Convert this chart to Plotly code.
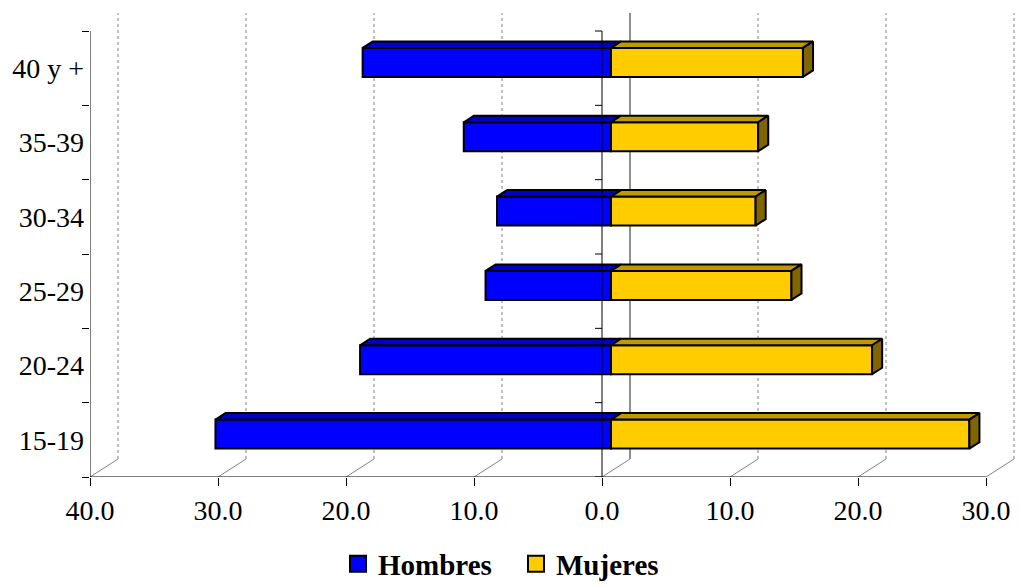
import plotly.graph_objects as go

# Age groups (bottom to top) and percentages by sex
grupos = ["15-19", "20-24", "25-29", "30-34", "35-39", "40 y +"]
hombres = [30.9, 19.6, 9.8, 8.9, 11.5, 19.4]
mujeres = [28.0, 20.4, 14.1, 11.3, 11.5, 15.0]

# Value axis ticks (men drawn to the left as negative values)
xticks = [-40, -30, -20, -10, 0, 10, 20, 30]
xticklabels = ["40.0", "30.0", "20.0", "10.0", "0.0", "10.0", "20.0", "30.0"]

# ---- page / plot geometry ----
W, H = 1019, 586
ML, MR, MT, MB = 90, 2, 10, 109
PW, PH = W - ML - MR, H - MT - MB
PX_PER_X = 12.8            # pixels per percentage point on the front plane
PX_PER_Y = 446 / 6         # pixels per category band on the front plane
XMIN = xticks[0]
XMAX = XMIN + PW / PX_PER_X
YMAX = PH / PX_PER_Y
NCAT = len(grupos)

# depth (pseudo 3-D) vector from the front plane to the back wall, in data units
DX = 28 / PX_PER_X
DY = 18 / PX_PER_Y
F0, F1 = 0.32, 0.68        # bar front / back depth fractions
BAR_W = 29 / PX_PER_Y      # bar thickness in category units

BLUE, BLUE_TOP = "#0000FF", "#0000C8"
GOLD, GOLD_TOP, GOLD_SIDE = "#FFCC00", "#C09900", "#806600"
FONT = "Liberation Serif, Times New Roman, serif"
EDGE = dict(color="black", width=2)

fig = go.Figure()

base0 = F0 * DX
centers = [i + 0.5 + F0 * DY for i in range(NCAT)]
ddx, ddy = (F1 - F0) * DX, (F1 - F0) * DY

# front faces of the bars
fig.add_trace(go.Bar(
    y=centers, x=[-v for v in hombres], base=base0, orientation="h",
    width=BAR_W, marker=dict(color=BLUE, line=EDGE), showlegend=False,
    hoverinfo="skip"))
fig.add_trace(go.Bar(
    y=centers, x=mujeres, base=base0, orientation="h",
    width=BAR_W, marker=dict(color=GOLD, line=EDGE), showlegend=False,
    hoverinfo="skip"))

# top and side faces of each bar
for yc, h, m in zip(centers, hombres, mujeres):
    yt, yb = yc + BAR_W / 2, yc - BAR_W / 2
    # men, top face
    fig.add_trace(go.Scatter(
        x=[base0 - h, base0 - h + ddx, base0 + ddx, base0, base0 - h],
        y=[yt, yt + ddy, yt + ddy, yt, yt],
        mode="lines", fill="toself", fillcolor=BLUE_TOP,
        line=dict(color="black", width=2), showlegend=False, hoverinfo="skip"))
    # women, top face
    fig.add_trace(go.Scatter(
        x=[base0, base0 + ddx, base0 + m + ddx, base0 + m, base0],
        y=[yt, yt + ddy, yt + ddy, yt, yt],
        mode="lines", fill="toself", fillcolor=GOLD_TOP,
        line=dict(color="black", width=2), showlegend=False, hoverinfo="skip"))
    # women, right end face
    fig.add_trace(go.Scatter(
        x=[base0 + m, base0 + m + ddx, base0 + m + ddx, base0 + m, base0 + m],
        y=[yt, yt + ddy, yb + ddy, yb, yt],
        mode="lines", fill="toself", fillcolor=GOLD_SIDE,
        line=dict(color="black", width=2), showlegend=False, hoverinfo="skip"))

# legend entries
for name, col in [("Hombres", BLUE), ("Mujeres", GOLD)]:
    fig.add_trace(go.Scatter(
        x=[None], y=[None], mode="markers", name=name,
        marker=dict(symbol="square", size=16, color=col,
                    line=dict(color="black", width=2))))

shapes = []
# back wall gridlines and floor diagonals
for v in xticks:
    shapes.append(dict(
        type="line", layer="below", x0=v + DX, x1=v + DX, y0=DY, y1=NCAT + DY,
        line=dict(color="#202020" if v == 0 else "#808080", width=1,
                  dash="solid" if v == 0 else "dot")))
    shapes.append(dict(
        type="line", layer="below", x0=v, x1=v + DX, y0=0, y1=DY,
        line=dict(color="#808080", width=1)))

# front axis lines
shapes.append(dict(type="line", layer="above", x0=xticks[0], x1=xticks[-1],
                   y0=0, y1=0, line=dict(color="black", width=1)))
shapes.append(dict(type="line", layer="above", x0=xticks[0], x1=xticks[0],
                   y0=0, y1=NCAT, line=dict(color="black", width=1)))
shapes.append(dict(type="line", layer="above", x0=0, x1=0,
                   y0=0, y1=NCAT, line=dict(color="black", width=1)))
tick_len = 7 / PX_PER_X
for b in range(NCAT + 1):
    shapes.append(dict(type="line", layer="above", x0=-tick_len, x1=0,
                       y0=b, y1=b, line=dict(color="black", width=1)))

fig.update_layout(
    width=W, height=H,
    margin=dict(l=ML, r=MR, t=MT, b=MB, pad=0, autoexpand=False),
    paper_bgcolor="white", plot_bgcolor="white",
    font=dict(family=FONT, size=28, color="black"),
    barmode="overlay",
    shapes=shapes,
    showlegend=True,
    legend=dict(
        orientation="h", xref="container", yref="container",
        x=338 / W, xanchor="left",
        y=1 - 564 / H, yanchor="middle",
        entrywidth=133, entrywidthmode="pixels",
        font=dict(family=FONT, size=29, color="black", weight="bold"),
        itemsizing="trace", bgcolor="rgba(0,0,0,0)"),
    xaxis=dict(
        range=[XMIN, XMAX], showgrid=False, zeroline=False, showline=False,
        tickmode="array", tickvals=xticks, ticktext=xticklabels,
        ticks="outside", ticklen=8, tickwidth=1, tickcolor="black",
        tickfont=dict(family=FONT, size=28, color="black")),
    yaxis=dict(
        range=[0, YMAX], showgrid=False, zeroline=False, showline=False,
        tickmode="array", tickvals=[i + 0.5 for i in range(NCAT)],
        ticktext=grupos, ticks="", ticklabelstandoff=5,
        tickfont=dict(family=FONT, size=28, color="black"),
        minor=dict(tickmode="array", tickvals=list(range(NCAT + 1)),
                   ticks="outside", ticklen=7, tickwidth=1, tickcolor="black")),
)

fig.write_html("out.html")
